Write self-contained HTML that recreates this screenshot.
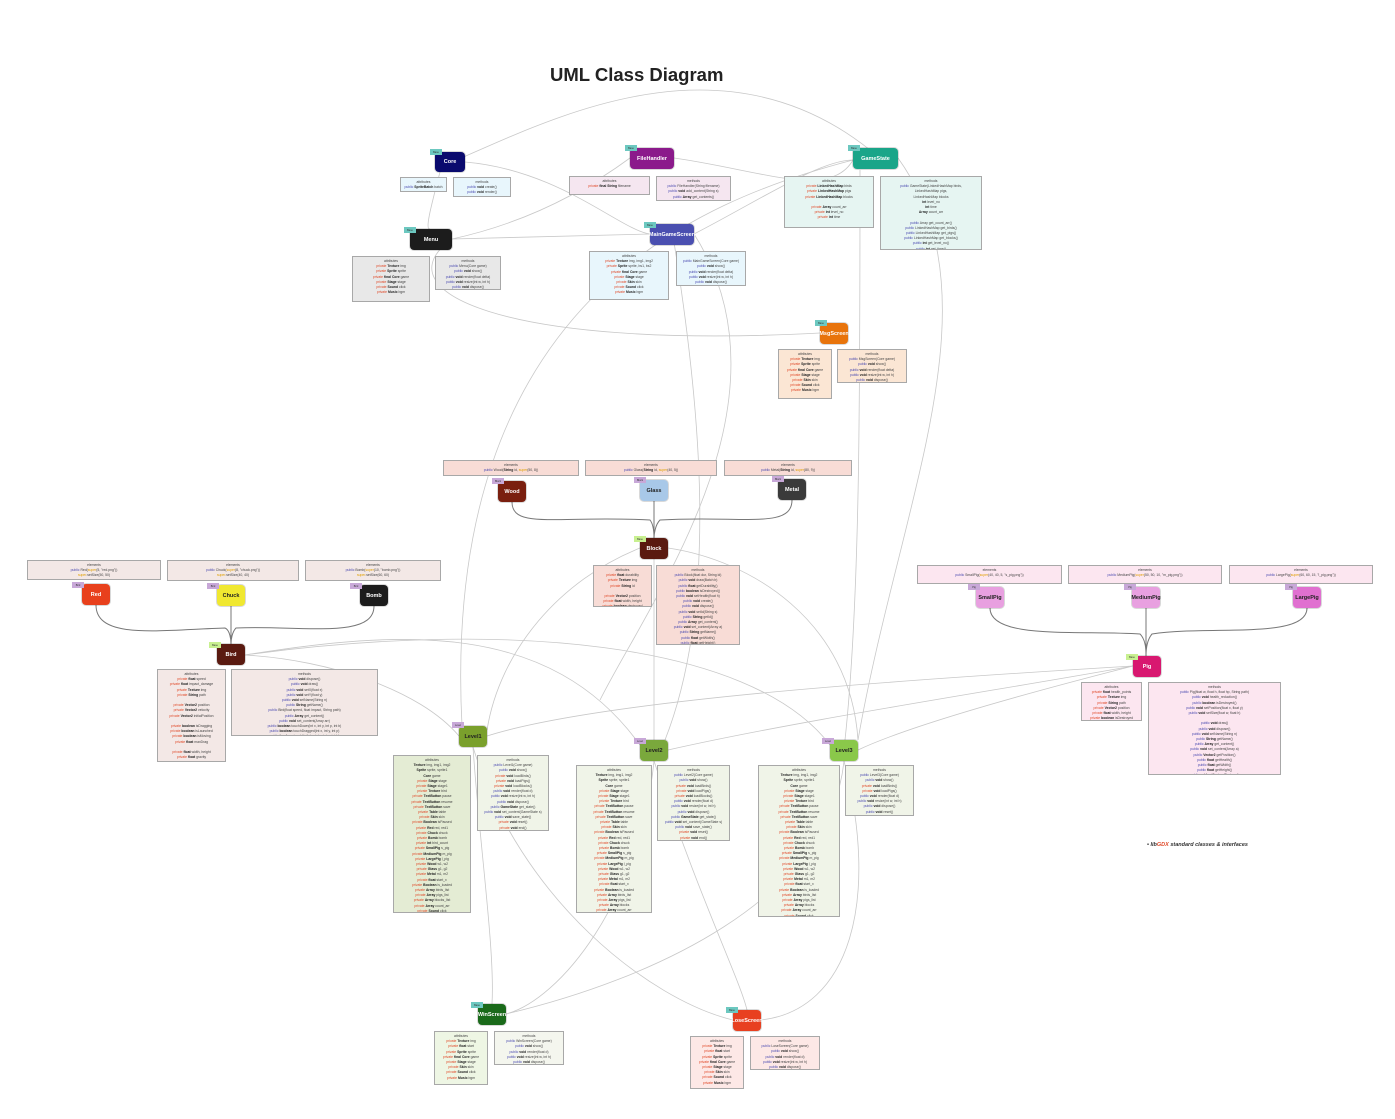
<!DOCTYPE html>
<html><head><meta charset="utf-8">
<style>
body{margin:0;width:1395px;height:1119px;background:#fff;position:relative;overflow:hidden;font-family:"Liberation Sans",sans-serif}
.n{position:absolute;border-radius:4px;color:#fff;font-weight:bold;font-size:5.5px;display:flex;align-items:center;justify-content:center;box-shadow:0 0 0 1px rgba(0,0,0,.15)}
.t{position:absolute;width:12px;height:6px;font-size:2.5px;color:#333;display:flex;align-items:center;justify-content:center}
.b{position:absolute;box-sizing:border-box;border:1.5px solid #a8a8a8;font-size:3.4px;line-height:5.2px;text-align:center;color:#444;padding-top:2px;overflow:hidden}
.b i{font-style:normal;color:#e04a2a}.b u{text-decoration:none;color:#4a4ab0}.b b{color:#222}
svg{position:absolute;left:0;top:0}
</style></head><body>
<svg width="1395" height="1119" fill="none" stroke="#c8c8c8" stroke-width="0.8">
<path d="M452 162 C 550 120, 720 30, 870 150"/>
<path d="M465 162 C 560 170, 620 230, 650 234"/>
<path d="M452 239 C 540 220, 600 180, 630 158"/>
<path d="M452 239 L650 234"/>
<path d="M440 172 C 430 210, 425 230, 430 229"/>
<path d="M674 158 C 760 170, 830 200, 853 160"/>
<path d="M694 234 C 760 200, 820 160, 853 160"/>
<path d="M452 239 C 380 290, 500 350, 820 333"/>
<path d="M898 158 C 1000 300, 900 500, 858 740"/>
<path d="M853 160 C 700 200, 440 300, 462 726"/>
<path d="M672 230 C 700 400, 720 600, 665 740"/>
<path d="M860 170 C 860 400, 860 600, 845 740"/>
<path d="M245 655 C 330 660, 420 690, 459 736"/>
<path d="M245 655 C 400 630, 550 620, 640 745"/>
<path d="M245 655 C 500 620, 750 640, 830 745"/>
<path d="M1133 666 C 900 680, 600 700, 487 736"/>
<path d="M1133 666 C 1000 690, 800 720, 668 750"/>
<path d="M1133 666 C 1000 700, 900 730, 858 750"/>
<path d="M668 548 C 750 560, 850 620, 858 740"/>
<path d="M640 548 C 560 580, 500 650, 487 730"/>
<path d="M654 559 L654 740"/>
<path d="M473 747 C 480 850, 495 950, 492 1004"/>
<path d="M473 747 C 520 900, 650 1000, 733 1020"/>
<path d="M654 761 C 640 900, 560 1000, 506 1014"/>
<path d="M654 761 C 700 900, 740 980, 747 1010"/>
<path d="M844 761 C 830 900, 650 980, 506 1014"/>
<path d="M844 761 C 880 900, 850 1010, 761 1020"/>
<path d="M694 234 C 800 400, 650 600, 600 700"/>
</svg>
<svg width="1395" height="1119" fill="none" stroke="#777" stroke-width="1">
<path d="M512 502 C 512 530, 560 515, 650 520 C 654 525, 654 535, 654 538"/>
<path d="M654 501 L654 538"/>
<path d="M792 500 C 792 530, 740 515, 660 520 C 655 525, 654 535, 654 538"/>
<path d="M96 605 C 96 640, 160 630, 225 628 C 230 630, 231 640, 231 644"/>
<path d="M231 606 L231 644"/>
<path d="M374 606 C 374 640, 300 625, 236 628 C 232 632, 231 640, 231 644"/>
<path d="M990 608 C 990 640, 1080 630, 1140 634 C 1146 640, 1146 650, 1146 656"/>
<path d="M1146 608 L1146 656"/>
<path d="M1307 608 C 1307 640, 1210 625, 1152 634 C 1147 640, 1146 650, 1146 656"/>
</svg>
<div style="position:absolute;left:550px;top:64px;font-size:18.5px;font-weight:bold;color:#222">UML Class Diagram</div>
<div style="position:absolute;left:1147px;top:842px;font-size:5.5px;font-weight:bold;font-style:italic;color:#333">• lib<span style="color:#e04a2a">GDX</span> standard classes &amp; interfaces</div>

<div class="n" style="left:435px;top:152px;width:30px;height:20px;background:#0a0a6e">Core</div><div class="t" style="left:430px;top:149px;background:#6cc8c0">Base</div>
<div class="n" style="left:630px;top:148px;width:44px;height:21px;background:#8b1a8b">FileHandler</div><div class="t" style="left:625px;top:145px;background:#6cc8c0">Base</div>
<div class="n" style="left:853px;top:148px;width:45px;height:21px;background:#1aa589">GameState</div><div class="t" style="left:848px;top:145px;background:#6cc8c0">Base</div>
<div class="n" style="left:410px;top:229px;width:42px;height:21px;background:#1c1c1c">Menu</div><div class="t" style="left:404px;top:227px;background:#6cc8c0">Base</div>
<div class="n" style="left:650px;top:224px;width:44px;height:21px;background:#4a4fb0">MainGameScreen</div><div class="t" style="left:644px;top:222px;background:#6cc8c0">Base</div>
<div class="n" style="left:820px;top:323px;width:28px;height:21px;background:#e8740c">MsgScreen</div><div class="t" style="left:815px;top:320px;background:#6cc8c0">Base</div>
<div class="n" style="left:498px;top:481px;width:28px;height:21px;background:#7a1f0f">Wood</div><div class="t" style="left:492px;top:478px;background:#c8a8d8">Block</div>
<div class="n" style="left:640px;top:480px;width:28px;height:21px;background:#a8c8e8;color:#222">Glass</div><div class="t" style="left:634px;top:477px;background:#c8a8d8">Block</div>
<div class="n" style="left:778px;top:479px;width:28px;height:21px;background:#3a3a3a">Metal</div><div class="t" style="left:772px;top:476px;background:#c8a8d8">Block</div>
<div class="n" style="left:640px;top:538px;width:28px;height:21px;background:#5a1a10">Block</div><div class="t" style="left:634px;top:536px;background:#c8f090">Base</div>
<div class="n" style="left:82px;top:584px;width:28px;height:21px;background:#e8401c">Red</div><div class="t" style="left:72px;top:582px;background:#c8a8d8">Bird</div>
<div class="n" style="left:217px;top:585px;width:28px;height:21px;background:#f0e830;color:#222">Chuck</div><div class="t" style="left:207px;top:583px;background:#c8a8d8">Bird</div>
<div class="n" style="left:360px;top:585px;width:28px;height:21px;background:#1c1c1c">Bomb</div><div class="t" style="left:350px;top:583px;background:#c8a8d8">Bird</div>
<div class="n" style="left:217px;top:644px;width:28px;height:21px;background:#5a1a10">Bird</div><div class="t" style="left:209px;top:642px;background:#c8f090">Base</div>
<div class="n" style="left:976px;top:587px;width:28px;height:21px;background:#e8a0e0;color:#222">SmallPig</div><div class="t" style="left:968px;top:584px;background:#c8a8d8">Pig</div>
<div class="n" style="left:1132px;top:587px;width:28px;height:21px;background:#e8a0e0;color:#222">MediumPig</div><div class="t" style="left:1124px;top:584px;background:#c8a8d8">Pig</div>
<div class="n" style="left:1293px;top:587px;width:28px;height:21px;background:#e070d0;color:#222">LargePig</div><div class="t" style="left:1285px;top:584px;background:#c8a8d8">Pig</div>
<div class="n" style="left:1133px;top:656px;width:28px;height:21px;background:#d81870">Pig</div><div class="t" style="left:1126px;top:654px;background:#c8f090">Base</div>
<div class="n" style="left:459px;top:726px;width:28px;height:21px;background:#7aa02c;color:#222">Level1</div><div class="t" style="left:452px;top:722px;background:#c8a8d8">Level</div>
<div class="n" style="left:640px;top:740px;width:28px;height:21px;background:#7aa83c;color:#222">Level2</div><div class="t" style="left:634px;top:738px;background:#c8a8d8">Level</div>
<div class="n" style="left:830px;top:740px;width:28px;height:21px;background:#8ac84a;color:#222">Level3</div><div class="t" style="left:822px;top:738px;background:#c8a8d8">Level</div>
<div class="n" style="left:478px;top:1004px;width:28px;height:21px;background:#1a6a1a">WinScreen</div><div class="t" style="left:471px;top:1002px;background:#6cc8c0">Base</div>
<div class="n" style="left:733px;top:1010px;width:28px;height:21px;background:#e84020">LoseScreen</div><div class="t" style="left:726px;top:1007px;background:#6cc8c0">Base</div>

<div class="b" style="left:400px;top:177px;width:47px;height:15px;background:#e8f6fc">attributes<br><u>public</u> <b>SpriteBatch</b> batch</div>
<div class="b" style="left:453px;top:177px;width:58px;height:20px;background:#e8f6fc">methods<br><u>public</u> <b>void</b> create()<br><u>public</u> <b>void</b> render()</div>
<div class="b" style="left:569px;top:176px;width:81px;height:19px;background:#f5e6f0">attributes<br><i>private</i> <b>final String</b> filename</div>
<div class="b" style="left:656px;top:176px;width:75px;height:25px;background:#f5e6f0">methods<br><u>public</u> FileHandler(String filename)<br><u>public</u> <b>void</b> add_content(String s)<br><u>public</u> <b>Array</b> get_contents()</div>
<div class="b" style="left:784px;top:176px;width:90px;height:52px;background:#e6f5f2">attributes<br><i>private</i> <b>LinkedHashMap</b> birds<br><i>private</i> <b>LinkedHashMap</b> pigs<br><i>private</i> <b>LinkedHashMap</b> blocks<br><br><i>private</i> <b>Array</b> count_arr<br><i>private</i> <b>int</b> level_no<br><i>private</i> <b>int</b> time</div>
<div class="b" style="left:880px;top:176px;width:102px;height:74px;background:#e6f5f2">methods<br><u>public</u> GameState(LinkedHashMap birds,<br>LinkedHashMap pigs,<br>LinkedHashMap blocks<br><b>int</b> level_no<br><b>int</b> time<br><b>Array</b> count_arr<br><br><u>public</u> Array get_count_arr()<br><u>public</u> LinkedHashMap get_birds()<br><u>public</u> LinkedHashMap get_pigs()<br><u>public</u> LinkedHashMap get_blocks()<br><u>public</u> <b>int</b> get_level_no()<br><u>public</u> <b>int</b> get_time()</div>
<div class="b" style="left:352px;top:256px;width:78px;height:46px;background:#e8e8e8">attributes<br><i>private</i> <b>Texture</b> img<br><i>private</i> <b>Sprite</b> sprite<br><i>private</i> <b>final Core</b> game<br><i>private</i> <b>Stage</b> stage<br><i>private</i> <b>Sound</b> click<br><i>private</i> <b>Music</b> bgm</div>
<div class="b" style="left:435px;top:256px;width:66px;height:34px;background:#e8e8e8">methods<br><u>public</u> Menu(Core game)<br><u>public</u> <b>void</b> show()<br><u>public</u> <b>void</b> render(float delta)<br><u>public</u> <b>void</b> resize(int w, int h)<br><u>public</u> <b>void</b> dispose()</div>
<div class="b" style="left:589px;top:251px;width:80px;height:49px;background:#e8f6fc">attributes<br><i>private</i> <b>Texture</b> img, img1, img2<br><i>private</i> <b>Sprite</b> sprite, bs1, bs2<br><i>private</i> <b>final Core</b> game<br><i>private</i> <b>Stage</b> stage<br><i>private</i> <b>Skin</b> skin<br><i>private</i> <b>Sound</b> click<br><i>private</i> <b>Music</b> bgm</div>
<div class="b" style="left:676px;top:251px;width:70px;height:35px;background:#e8f6fc">methods<br><u>public</u> MainGameScreen(Core game)<br><u>public</u> <b>void</b> show()<br><u>public</u> <b>void</b> render(float delta)<br><u>public</u> <b>void</b> resize(int w, int h)<br><u>public</u> <b>void</b> dispose()</div>
<div class="b" style="left:778px;top:349px;width:54px;height:50px;background:#fbe6d4">attributes<br><i>private</i> <b>Texture</b> img<br><i>private</i> <b>Sprite</b> sprite<br><i>private</i> <b>final Core</b> game<br><i>private</i> <b>Stage</b> stage<br><i>private</i> <b>Skin</b> skin<br><i>private</i> <b>Sound</b> click<br><i>private</i> <b>Music</b> bgm</div>
<div class="b" style="left:837px;top:349px;width:70px;height:34px;background:#fbe6d4">methods<br><u>public</u> MsgScreen(Core game)<br><u>public</u> <b>void</b> show()<br><u>public</u> <b>void</b> render(float delta)<br><u>public</u> <b>void</b> resize(int w, int h)<br><u>public</u> <b>void</b> dispose()</div>
<div class="b" style="left:443px;top:460px;width:136px;height:16px;background:#f8dcd6">elements<br><u>public</u> Wood(<b>String</b> id, <span style="color:#e0a000">super</span>(50, 8))</div>
<div class="b" style="left:585px;top:460px;width:132px;height:16px;background:#f8dcd6">elements<br><u>public</u> Glass(<b>String</b> id, <span style="color:#e0a000">super</span>(40, 5))</div>
<div class="b" style="left:724px;top:460px;width:128px;height:16px;background:#f8dcd6">elements<br><u>public</u> Metal(<b>String</b> id, <span style="color:#e0a000">super</span>(80, 9))</div>
<div class="b" style="left:593px;top:565px;width:59px;height:42px;background:#f8dcd6">attributes<br><i>private</i> <b>float</b> durability<br><i>private</i> <b>Texture</b> img<br><i>private</i> <b>String</b> id<br><br><i>private</i> <b>Vector2</b> position<br><i>private</i> <b>float</b> width, height<br><i>private</i> <b>boolean</b> destroyed</div>
<div class="b" style="left:656px;top:565px;width:84px;height:80px;background:#f8dcd6">methods<br><u>public</u> Block(float dur, String id)<br><u>public</u> <b>void</b> draw(Batch b)<br><u>public</u> <b>float</b> getDurability()<br><u>public</u> <b>boolean</b> isDestroyed()<br><u>public</u> <b>void</b> setHealth(float h)<br><u>public</u> <b>void</b> create()<br><u>public</u> <b>void</b> dispose()<br><u>public</u> <b>void</b> setId(String s)<br><u>public</u> <b>String</b> getId()<br><u>public</u> <b>Array</b> get_content()<br><u>public</u> <b>void</b> set_content(Array a)<br><u>public</u> <b>String</b> getName()<br><u>public</u> <b>float</b> getWidth()<br><u>public</u> <b>float</b> getHeight()</div>
<div class="b" style="left:27px;top:560px;width:134px;height:20px;background:#f3e8e6">elements<br><u>public</u> Red(<span style="color:#e0a000">super</span>(5, "red.png"))<br><span style="color:#e0a000">super</span>.setSize(50, 50)</div>
<div class="b" style="left:167px;top:560px;width:132px;height:21px;background:#f3e8e6">elements<br><u>public</u> Chuck(<span style="color:#e0a000">super</span>(8, "chuck.png"))<br><span style="color:#e0a000">super</span>.setSize(40, 40)</div>
<div class="b" style="left:305px;top:560px;width:136px;height:21px;background:#f3e8e6">elements<br><u>public</u> Bomb(<span style="color:#e0a000">super</span>(10, "bomb.png"))<br><span style="color:#e0a000">super</span>.setSize(60, 60)</div>
<div class="b" style="left:157px;top:669px;width:69px;height:93px;background:#f3e8e6">attributes<br><i>private</i> <b>float</b> speed<br><i>private</i> <b>float</b> impact_damage<br><i>private</i> <b>Texture</b> img<br><i>private</i> <b>String</b> path<br><br><i>private</i> <b>Vector2</b> position<br><i>private</i> <b>Vector2</b> velocity<br><i>private</i> <b>Vector2</b> initialPosition<br><br><i>private</i> <b>boolean</b> isDragging<br><i>private</i> <b>boolean</b> isLaunched<br><i>private</i> <b>boolean</b> isMoving<br><i>private</i> <b>float</b> maxDrag<br><br><i>private</i> <b>float</b> width, height<br><i>private</i> <b>float</b> gravity<br><br><i>private</i> <b>boolean</b> is_done</div>
<div class="b" style="left:231px;top:669px;width:147px;height:67px;background:#f3e8e6">methods<br><u>public</u> <b>void</b> dispose()<br><u>public</u> <b>void</b> draw()<br><u>public</u> <b>void</b> setX(float x)<br><u>public</u> <b>void</b> setY(float y)<br><u>public</u> <b>void</b> setName(String n)<br><u>public</u> <b>String</b> getName()<br><u>public</u> Bird(float speed, float impact, String path)<br><u>public</u> <b>Array</b> get_content()<br><u>public</u> <b>void</b> set_content(Array arr)<br><u>public</u> <b>boolean</b> touchDown(int x, int y, int p, int b)<br><u>public</u> <b>boolean</b> touchDragged(int x, int y, int p)<br><u>public</u> <b>boolean</b> touchUp(int x, int y, int p, int b)<br><u>public</u> <b>void</b> update(float dt, List pigs, List blocks, Array count)<br><u>public</u> <b>boolean</b> is_done()</div>
<div class="b" style="left:917px;top:565px;width:145px;height:19px;background:#fce6f0">elements<br><u>public</u> SmallPig(<span style="color:#e0a000">super</span>(40, 40, 5, "s_pig.png"))</div>
<div class="b" style="left:1068px;top:565px;width:154px;height:19px;background:#fce6f0">elements<br><u>public</u> MediumPig(<span style="color:#e0a000">super</span>(50, 50, 10, "m_pig.png"))</div>
<div class="b" style="left:1229px;top:565px;width:144px;height:19px;background:#fce6f0">elements<br><u>public</u> LargePig(<span style="color:#e0a000">super</span>(60, 60, 15, "l_pig.png"))</div>
<div class="b" style="left:1081px;top:682px;width:61px;height:39px;background:#fce6f0">attributes<br><i>private</i> <b>float</b> health_points<br><i>private</i> <b>Texture</b> img<br><i>private</i> <b>String</b> path<br><i>private</i> <b>Vector2</b> position<br><i>private</i> <b>float</b> width, height<br><i>private</i> <b>boolean</b> isDestroyed</div>
<div class="b" style="left:1148px;top:682px;width:133px;height:93px;background:#fce6f0">methods<br><u>public</u> Pig(float w, float h, float hp, String path)<br><u>public</u> <b>void</b> health_reduction()<br><u>public</u> <b>boolean</b> isDestroyed()<br><u>public</u> <b>void</b> setPosition(float x, float y)<br><u>public</u> <b>void</b> setSize(float w, float h)<br><br><u>public</u> <b>void</b> draw()<br><u>public</u> <b>void</b> dispose()<br><u>public</u> <b>void</b> setName(String n)<br><u>public</u> <b>String</b> getName()<br><u>public</u> <b>Array</b> get_content()<br><u>public</u> <b>void</b> set_content(Array a)<br><u>public</u> <b>Vector2</b> getPosition()<br><u>public</u> <b>float</b> getHealth()<br><u>public</u> <b>float</b> getWidth()<br><u>public</u> <b>float</b> getHeight()<br><u>public</u> <b>void</b> setTexture(Texture t)<br><u>public</u> <b>void</b> takeDamage(float d)</div>
<div class="b" style="left:393px;top:755px;width:78px;height:158px;background:#e4ecd4">attributes<br><b>Texture</b> img, img1, img2<br><b>Sprite</b> sprite, sprite1<br><b>Core</b> game<br><i>private</i> <b>Stage</b> stage<br><i>private</i> <b>Stage</b> stage1<br><i>private</i> <b>Texture</b> bird<br><i>private</i> <b>TextButton</b> pause<br><i>private</i> <b>TextButton</b> resume<br><i>private</i> <b>TextButton</b> save<br><i>private</i> <b>Table</b> table<br><i>private</i> <b>Skin</b> skin<br><i>private</i> <b>Boolean</b> isPaused<br><i>private</i> <b>Red</b> red, red1<br><i>private</i> <b>Chuck</b> chuck<br><i>private</i> <b>Bomb</b> bomb<br><i>private</i> <b>int</b> bird_count<br><i>private</i> <b>SmallPig</b> s_pig<br><i>private</i> <b>MediumPig</b> m_pig<br><i>private</i> <b>LargePig</b> l_pig<br><i>private</i> <b>Wood</b> w1, w2<br><i>private</i> <b>Glass</b> g1, g2<br><i>private</i> <b>Metal</b> m1, m2<br><i>private</i> <b>float</b> start_x<br><i>private</i> <b>Boolean</b> is_loaded<br><i>private</i> <b>Array</b> birds_list<br><i>private</i> <b>Array</b> pigs_list<br><i>private</i> <b>Array</b> blocks_list<br><i>private</i> <b>Array</b> count_arr<br><i>private</i> <b>Sound</b> click<br><i>private</i> <b>Music</b> bgm<br><i>private</i> <b>Sound</b> crash<br><i>private</i> <b>Boolean</b> start</div>
<div class="b" style="left:477px;top:755px;width:72px;height:76px;background:#f0f4e8">methods<br><u>public</u> Level1(Core game)<br><u>public</u> <b>void</b> show()<br><i>private</i> <b>void</b> loadBirds()<br><i>private</i> <b>void</b> loadPigs()<br><i>private</i> <b>void</b> loadBlocks()<br><u>public</u> <b>void</b> render(float d)<br><u>public</u> <b>void</b> resize(int w, int h)<br><u>public</u> <b>void</b> dispose()<br><u>public</u> <b>GameState</b> get_state()<br><u>public</u> <b>void</b> set_content(GameState s)<br><u>public</u> <b>void</b> save_state()<br><i>private</i> <b>void</b> reset()<br><i>private</i> <b>void</b> end()<br><i>private</i> <b>void</b> checkWin()</div>
<div class="b" style="left:576px;top:765px;width:76px;height:148px;background:#f0f4e8">attributes<br><b>Texture</b> img, img1, img2<br><b>Sprite</b> sprite, sprite1<br><b>Core</b> game<br><i>private</i> <b>Stage</b> stage<br><i>private</i> <b>Stage</b> stage1<br><i>private</i> <b>Texture</b> bird<br><i>private</i> <b>TextButton</b> pause<br><i>private</i> <b>TextButton</b> resume<br><i>private</i> <b>TextButton</b> save<br><i>private</i> <b>Table</b> table<br><i>private</i> <b>Skin</b> skin<br><i>private</i> <b>Boolean</b> isPaused<br><i>private</i> <b>Red</b> red, red1<br><i>private</i> <b>Chuck</b> chuck<br><i>private</i> <b>Bomb</b> bomb<br><i>private</i> <b>SmallPig</b> s_pig<br><i>private</i> <b>MediumPig</b> m_pig<br><i>private</i> <b>LargePig</b> l_pig<br><i>private</i> <b>Wood</b> w1, w2<br><i>private</i> <b>Glass</b> g1, g2<br><i>private</i> <b>Metal</b> m1, m2<br><i>private</i> <b>float</b> start_x<br><i>private</i> <b>Boolean</b> is_loaded<br><i>private</i> <b>Array</b> birds_list<br><i>private</i> <b>Array</b> pigs_list<br><i>private</i> <b>Array</b> blocks<br><i>private</i> <b>Array</b> count_arr<br>private Sound click<br>private Music bgm</div>
<div class="b" style="left:657px;top:765px;width:73px;height:76px;background:#f0f4e8">methods<br><u>public</u> Level2(Core game)<br><u>public</u> <b>void</b> show()<br><i>private</i> <b>void</b> loadBirds()<br><i>private</i> <b>void</b> loadPigs()<br><i>private</i> <b>void</b> loadBlocks()<br><u>public</u> <b>void</b> render(float d)<br><u>public</u> <b>void</b> resize(int w, int h)<br><u>public</u> <b>void</b> dispose()<br><u>public</u> <b>GameState</b> get_state()<br><u>public</u> <b>void</b> set_content(GameState s)<br><u>public</u> <b>void</b> save_state()<br><i>private</i> <b>void</b> reset()<br><i>private</i> <b>void</b> end()<br><i>private</i> <b>void</b> checkWin()</div>
<div class="b" style="left:758px;top:765px;width:82px;height:152px;background:#f0f4e8">attributes<br><b>Texture</b> img, img1, img2<br><b>Sprite</b> sprite, sprite1<br><b>Core</b> game<br><i>private</i> <b>Stage</b> stage<br><i>private</i> <b>Stage</b> stage1<br><i>private</i> <b>Texture</b> bird<br><i>private</i> <b>TextButton</b> pause<br><i>private</i> <b>TextButton</b> resume<br><i>private</i> <b>TextButton</b> save<br><i>private</i> <b>Table</b> table<br><i>private</i> <b>Skin</b> skin<br><i>private</i> <b>Boolean</b> isPaused<br><i>private</i> <b>Red</b> red, red1<br><i>private</i> <b>Chuck</b> chuck<br><i>private</i> <b>Bomb</b> bomb<br><i>private</i> <b>SmallPig</b> s_pig<br><i>private</i> <b>MediumPig</b> m_pig<br><i>private</i> <b>LargePig</b> l_pig<br><i>private</i> <b>Wood</b> w1, w2<br><i>private</i> <b>Glass</b> g1, g2<br><i>private</i> <b>Metal</b> m1, m2<br><i>private</i> <b>float</b> start_x<br><i>private</i> <b>Boolean</b> is_loaded<br><i>private</i> <b>Array</b> birds_list<br><i>private</i> <b>Array</b> pigs_list<br><i>private</i> <b>Array</b> blocks<br><i>private</i> <b>Array</b> count_arr<br><i>private</i> <b>Sound</b> click<br><i>private</i> <b>Music</b> bgm</div>
<div class="b" style="left:845px;top:765px;width:69px;height:51px;background:#f0f4e8">methods<br><u>public</u> Level3(Core game)<br><u>public</u> <b>void</b> show()<br><i>private</i> <b>void</b> loadBirds()<br><i>private</i> <b>void</b> loadPigs()<br><u>public</u> <b>void</b> render(float d)<br><u>public</u> <b>void</b> resize(int w, int h)<br><u>public</u> <b>void</b> dispose()<br><u>public</u> <b>void</b> reset()<br><u>public</u> <b>void</b> checkWin()</div>
<div class="b" style="left:434px;top:1031px;width:54px;height:54px;background:#eef6e4">attributes<br><i>private</i> <b>Texture</b> img<br><i>private</i> <b>float</b> start<br><i>private</i> <b>Sprite</b> sprite<br><i>private</i> <b>final Core</b> game<br><i>private</i> <b>Stage</b> stage<br><i>private</i> <b>Skin</b> skin<br><i>private</i> <b>Sound</b> click<br><i>private</i> <b>Music</b> bgm</div>
<div class="b" style="left:494px;top:1031px;width:70px;height:34px;background:#f4f6ee">methods<br><u>public</u> WinScreen(Core game)<br><u>public</u> <b>void</b> show()<br><u>public</u> <b>void</b> render(float d)<br><u>public</u> <b>void</b> resize(int w, int h)<br><u>public</u> <b>void</b> dispose()</div>
<div class="b" style="left:690px;top:1036px;width:54px;height:53px;background:#fde8e6">attributes<br><i>private</i> <b>Texture</b> img<br><i>private</i> <b>float</b> start<br><i>private</i> <b>Sprite</b> sprite<br><i>private</i> <b>final Core</b> game<br><i>private</i> <b>Stage</b> stage<br><i>private</i> <b>Skin</b> skin<br><i>private</i> <b>Sound</b> click<br><i>private</i> <b>Music</b> bgm</div>
<div class="b" style="left:750px;top:1036px;width:70px;height:34px;background:#fde8e6">methods<br><u>public</u> LoseScreen(Core game)<br><u>public</u> <b>void</b> show()<br><u>public</u> <b>void</b> render(float d)<br><u>public</u> <b>void</b> resize(int w, int h)<br><u>public</u> <b>void</b> dispose()</div>
</body></html>
